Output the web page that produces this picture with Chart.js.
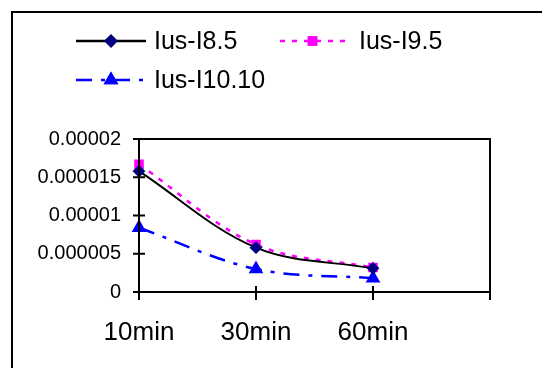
<!DOCTYPE html>
<html>
<head>
<meta charset="utf-8">
<script src="https://cdn.jsdelivr.net/npm/chart.js@4/dist/chart.umd.min.js"></script>
<style>
  html, body { margin: 0; padding: 0; background: #fff; }
  #wrap { position: relative; width: 542px; height: 368px; overflow: hidden; }
  #frame { position: absolute; left: 11px; top: 11px; width: 600px; height: 600px;
           border-left: 2px solid #000; border-top: 2px solid #000; pointer-events: none; }
  canvas { position: absolute; left: 0; top: 0; }
</style>
</head>
<body>
<div id="wrap">
  <canvas id="chart" width="542" height="368"></canvas>
  <div id="frame"></div>
</div>
<script>
"use strict";

// categories (the last slot is the empty tick at the right edge of the plot)
const categories = ["10min", "30min", "60min", ""];
const seriesNames = ["Ius-I8.5", "Ius-I9.5", "Ius-I10.10"];
const ius85 = [0.0000158, 0.0000058, 0.0000031];
const ius95 = [0.0000167, 0.0000062, 0.0000032];
const ius1010 = [0.0000084, 0.0000030, 0.0000018];
const yTicks = [0, 0.000005, 0.00001, 0.000015, 0.00002];
const yTickLabels = ["0", "0.000005", "0.00001", "0.000015", "0.00002"];

const FONT = "Arial, 'Liberation Sans', sans-serif";

// border round the plot area and ticks that cross the axis lines
const plotFrame = {
  id: "plotFrame",
  afterDraw(chart) {
    const ctx = chart.ctx;
    const a = chart.chartArea;
    const x = chart.scales.x, y = chart.scales.y;
    ctx.save();
    ctx.strokeStyle = "#000";
    ctx.lineWidth = 2;
    ctx.strokeRect(a.left, a.top, a.right - a.left, a.bottom - a.top);
    ctx.beginPath();
    x.ticks.forEach((t, i) => {
      const px = x.getPixelForTick(i);
      ctx.moveTo(px, a.bottom - 6);
      ctx.lineTo(px, a.bottom + 8);
    });
    y.ticks.forEach((t, i) => {
      const py = y.getPixelForTick(i);
      ctx.moveTo(a.left - 6, py);
      ctx.lineTo(a.left + 6, py);
    });
    ctx.stroke();
    ctx.restore();
  }
};

// Excel-like legend: line sample with the marker in its middle
const legendBox = {
  id: "legendBox",
  afterDraw(chart) {
    const ctx = chart.ctx;
    const items = [
      { ds: 0, x: 76, y: 41, len: 70 },
      { ds: 1, x: 280, y: 41, len: 65 },
      { ds: 2, x: 76, y: 80, len: 70 }
    ];
    ctx.save();
    items.forEach(it => {
      const ds = chart.data.datasets[it.ds];
      ctx.strokeStyle = ds.borderColor;
      ctx.lineWidth = 2.5;
      ctx.setLineDash(ds.borderDash || []);
      ctx.beginPath();
      ctx.moveTo(it.x, it.y);
      ctx.lineTo(it.x + it.len, it.y);
      ctx.stroke();
      ctx.setLineDash([]);
      Chart.helpers.drawPoint(ctx, {
        pointStyle: ds.pointStyle,
        radius: ds.pointRadius,
        rotation: ds.pointRotation || 0,
        borderWidth: 1
      }, it.x + it.len / 2, it.y);
      ctx.fillStyle = ds.pointBackgroundColor;
      ctx.strokeStyle = ds.pointBorderColor;
      ctx.fill();
      ctx.stroke();
      ctx.fillStyle = "#000";
      ctx.font = "25px " + FONT;
      ctx.textBaseline = "middle";
      ctx.fillText(ds.label, it.x + it.len + (it.ds === 1 ? 14 : 8), it.y + 1);
    });
    ctx.restore();
  }
};

new Chart(document.getElementById("chart"), {
  type: "line",
  data: {
    labels: categories,
    datasets: [
      {
        label: seriesNames[0],
        data: ius85,
        borderColor: "#000000",
        borderWidth: 2,
        tension: 0.35,
        pointStyle: "rectRot",
        pointRadius: 5,
        pointBackgroundColor: "#000080",
        pointBorderColor: "#000080"
      },
      {
        label: seriesNames[1],
        data: ius95,
        borderColor: "#FF00FF",
        borderWidth: 2.5,
        borderDash: [5, 7],
        tension: 0.35,
        pointStyle: "rect",
        pointRadius: 5,
        pointBackgroundColor: "#FF00FF",
        pointBorderColor: "#FF00FF"
      },
      {
        label: seriesNames[2],
        data: ius1010,
        borderColor: "#0000FF",
        borderWidth: 2.5,
        borderDash: [16, 9, 4, 9],
        tension: 0.35,
        pointStyle: "triangle",
        pointRadius: 6,
        pointBackgroundColor: "#0000FF",
        pointBorderColor: "#0000FF"
      }
    ]
  },
  options: {
    responsive: false,
    animation: false,
    layout: { padding: { top: 139, right: 52, left: 0, bottom: 0 } },
    plugins: {
      legend: { display: false },
      tooltip: { enabled: false }
    },
    scales: {
      x: {
        offset: false,
        grid: { display: false },
        border: { display: false },
        ticks: {
          color: "#000",
          font: { size: 26, family: FONT },
          padding: 17,
          maxRotation: 0,
          autoSkip: false
        },
        afterFit: s => { s.height = 76; }
      },
      y: {
        min: 0,
        max: 0.00002,
        grid: { display: false },
        border: { display: false },
        afterBuildTicks: s => { s.ticks = yTicks.map(v => ({ value: v })); },
        ticks: {
          color: "#000",
          font: { size: 20, family: FONT },
          padding: 10,
          callback: (v, i) => yTickLabels[i]
        },
        afterFit: s => { s.width = 139; }
      }
    }
  },
  plugins: [plotFrame, legendBox]
});
</script>
</body>
</html>
